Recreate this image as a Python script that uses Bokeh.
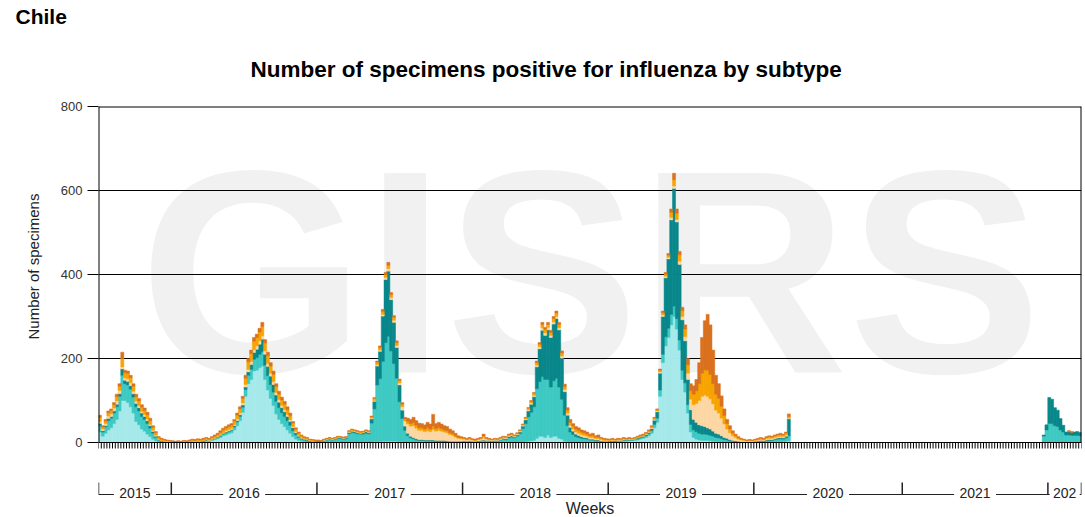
import pandas as pd
from bokeh.plotting import figure
from bokeh.models import Range1d, FixedTicker, ColumnDataSource, Title
from bokeh.embed import file_html
from bokeh.resources import INLINE
from bokeh.core.properties import value

# ---------------- data ----------------
# week index 0 = 2015 week 28; 351 weekly bars up to 2022 week 12
n_weeks = 351
year_labels = ["2015", "2016", "2017", "2018", "2019", "2020", "2021", "202"]
year_starts = [0, 26, 78, 130, 182, 234, 287, 339]
y_ticks = [0, 200, 400, 600, 800]

series_names = ["A(H1N1)pdm09", "A(H3)", "A (not subtyped)",
                "B (Victoria)", "B (Yamagata)", "B (lineage not determined)"]
series_colors = ["#a6e9ea", "#3ec9c3", "#09878a", "#fcd7a4", "#f7a400", "#d9711f"]

a_h1 = [25,15,22,30,35,45,55,75,100,100, 95,85,70,50,42,32,27,20,14,8,
        4,2,1,1,0,0,0,0,0,0, 0,0,1,1,1,1,1,2,3,3,
        5,7,9,12,16,18,21,23,30,40, 52,72,110,140,150,170,172,178,182,150,
        125,105,88,68,55,45,38,30,22,14, 8,5,3,2,1,1,0,0,0,0,
        0,0,0,0,0,0,0,0,0,1, 1,1,1,1,1,1,1,1,2,2,
        2,3,3,3,3,3,3,2,2,1, 1,1,1,0,0,0,0,0,0,0,
        0,0,0,0,0,0,0,0,0,0, 0,0,0,0,0,0,0,0,0,0,
        0,0,0,0,0,0,0,0,0,1, 1,1,2,3,4,5,10,15,15,12,
        18,12,15,15,10,8,3,2,1,1, 0,0,0,0,0,0,0,0,0,0,
        0,0,1,1,1,2,2,3,3,4, 4,5,6,8,10,12,16,22,35,48,
        110,190,230,250,280,300,270,220,150,120, 70,25,12,8,6,5,5,5,4,3,
        2,2,1,1,1,0,0,0,0,0, 0,0,0,0,0,1,1,1,1,1,
        1,2,2,2,2,3,4] + [0] * 90 + \
       [0,0,0,0,0,0,0,0,0,0,0,0,0,0]

a_h3 = [15,10,15,22,23,25,30,35,60,40, 42,42,38,35,33,30,28,25,20,14,
        8,4,2,1,1,1,1,1,1,1, 1,1,1,1,1,1,1,1,2,1,
        2,2,3,3,4,5,5,6,7,9, 10,12,16,20,24,28,30,32,34,34,
        34,33,32,30,28,26,24,22,19,14, 10,7,5,4,3,2,2,2,3,2,
        4,6,8,6,8,10,9,8,9,20, 23,22,20,19,19,21,20,45,78,135,
        150,190,235,250,215,185,150,95,55,28, 15,10,8,6,5,5,4,4,4,4,
        3,3,3,3,3,2,2,2,2,2, 3,2,3,2,2,3,4,5,4,4,
        3,4,4,6,8,7,11,13,11,14, 20,32,43,58,68,80,118,130,142,138,
        132,120,132,138,122,95,62,38,24,18, 14,12,10,9,8,6,6,4,4,3,
        2,2,2,2,2,2,2,2,2,2, 2,2,3,3,3,4,5,6,8,10,
        15,20,22,22,25,25,25,24,22,22, 20,18,18,18,16,15,15,14,13,12,
        10,9,8,6,5,4,3,2,2,1, 1,1,1,1,2,2,3,2,3,4,
        4,5,6,7,6,8,12] + [0] * 90 + \
       [15,30,45,45,40,38,30,25,18,18,17,17,17,16]

a_ns = [5,3,3,5,4,5,6,6,15,8, 8,8,8,8,8,8,7,7,6,4,
        3,1,1,1,1,0,1,0,0,0, 1,0,1,1,0,1,1,1,1,1,
        1,1,1,2,2,2,2,2,3,3, 4,5,6,8,12,16,20,24,30,26,
        22,20,18,15,13,12,11,10,9,7, 5,3,2,2,2,1,1,1,1,1,
        1,1,1,1,1,2,2,2,2,3, 3,3,3,2,3,4,3,10,18,45,
        65,108,150,155,122,98,73,40,20,10, 6,4,3,3,2,2,2,2,2,2,
        2,2,2,2,1,1,1,1,1,1, 1,1,1,1,1,1,1,1,1,1,
        1,1,1,1,2,2,3,3,2,3, 4,6,9,14,19,24,52,78,110,105,
        118,118,135,142,136,98,56,25,11,8, 6,5,4,3,3,2,2,2,2,1,
        1,1,1,1,1,1,1,1,1,1, 1,1,2,2,2,3,3,5,10,15,
        40,90,140,165,225,280,230,180,120,100, 60,35,25,22,20,20,18,16,15,12,
        10,9,7,5,4,3,2,2,1,1, 1,1,1,1,1,1,1,1,2,2,
        2,2,3,3,3,4,40] + [0] * 90 + \
       [3,12,62,58,43,39,27,16,7,8,7,8,9,8]

b_vic = [5,4,5,6,6,7,8,8,5,6, 7,7,6,5,5,4,4,4,3,3,
         2,1,1,1,1,1,0,0,1,0, 1,1,1,1,1,1,1,1,1,1,
         1,1,2,2,2,3,3,3,3,4, 4,5,6,6,7,7,8,8,8,8,
         7,7,7,6,6,5,5,5,4,3, 3,2,2,1,1,1,1,0,0,0,
         1,1,1,1,1,1,1,1,1,1, 1,1,1,1,1,1,1,2,2,3,
         3,4,5,6,5,5,5,5,8,12, 22,24,28,25,22,22,20,22,20,25,
         22,24,22,20,19,16,14,10,7,6, 4,3,4,3,2,3,3,6,3,2,
         2,2,2,2,2,2,2,2,2,2, 2,2,2,3,3,3,4,5,6,6,
         6,5,5,5,5,5,5,5,5,5, 5,5,5,5,4,4,4,3,3,3,
         2,2,1,2,1,1,1,2,1,1, 1,1,1,1,1,1,1,2,2,2,
         3,4,4,4,6,6,6,8,8,10, 15,25,35,45,58,70,75,75,72,65,
         55,50,42,32,22,16,11,8,5,4, 3,2,2,2,2,2,2,2,3,3,
         3,3,3,3,3,3,2] + [0] * 90 + \
        [0,0,0,0,0,0,0,0,0,0,0,0,0,0]

b_yam = [10,5,6,8,8,8,10,10,20,12, 12,12,12,11,11,10,10,10,9,7,
         6,4,3,2,2,2,1,1,1,1, 1,1,1,2,2,3,2,3,3,2,
         3,4,4,5,6,6,7,7,8,9, 10,11,15,18,19,20,20,21,22,19,
         19,17,17,14,13,13,13,11,10,8, 6,5,4,3,3,2,2,2,1,1,
         1,1,1,1,1,1,1,1,1,2, 3,2,2,2,2,2,2,3,5,6,
         6,7,7,8,7,7,7,6,6,5, 6,6,8,7,6,6,6,8,6,8,
         6,7,6,5,5,4,4,3,2,2, 2,2,2,1,1,1,2,3,2,1,
         1,2,1,2,2,2,2,2,2,2, 2,2,3,4,4,5,6,6,8,8,
         7,7,8,8,8,7,7,7,7,7, 7,7,6,6,5,4,5,4,4,3,
         3,2,2,2,2,2,2,2,2,2, 1,2,2,2,2,2,3,3,3,3,
         4,5,5,5,12,15,15,15,14,18, 20,20,25,30,40,55,60,62,58,48,
         38,35,28,20,13,9,6,4,3,2, 2,1,2,1,2,2,3,2,3,4,
         3,4,4,4,4,4,4] + [0] * 90 + \
        [0,0,0,0,0,0,0,0,0,1,0,0,0,0]

b_nd = [5,3,4,4,4,5,6,6,15,6, 6,6,6,6,6,6,6,6,6,4,
        3,2,2,2,1,1,1,1,1,1, 1,1,1,2,2,2,2,2,2,2,
        2,3,3,4,4,4,4,4,4,5, 5,5,7,8,8,9,8,9,10,8,
        8,8,8,7,7,7,7,7,6,4, 3,3,2,2,2,1,1,1,1,1,
        1,1,1,1,1,1,1,1,1,1, 1,1,1,1,1,1,1,2,2,3,
        4,5,5,7,5,4,4,3,4,4, 8,10,12,11,11,10,10,12,12,28,
        12,12,11,10,10,9,7,6,4,3, 2,2,2,2,2,2,2,5,2,2,
        1,1,1,1,1,1,2,2,1,1, 1,1,1,1,2,2,4,4,5,5,
        5,5,5,5,5,5,6,6,7,6, 6,6,5,5,5,4,5,3,5,2,
        2,2,1,2,1,2,1,2,1,2, 1,1,1,2,2,2,2,2,2,2,
        3,4,4,4,8,15,10,8,8,10, 15,17,20,27,50,85,117,133,118,80,
        45,35,25,16,10,8,6,4,3,2, 1,1,1,1,1,2,2,2,2,2,
        2,2,2,3,2,3,6] + [0] * 90 + \
       [0,0,0,0,0,0,0,0,0,1,2,0,0,0]

series_values = [a_h1, a_h3, a_ns, b_vic, b_yam, b_nd]

# ---------------- layout constants (pixels) ----------------
FONT = "Liberation Sans"
W, H = 1085, 517
LEFT, RIGHT, TOP = 98, 4, 106        # frame: x 98..1081, y 106..517
PX = 336 / 800                       # pixels per specimen (0 at y=442, 800 at y=106)
XPX = (W - LEFT - RIGHT) / n_weeks   # pixels per week
def below(px):                       # data y for a pixel distance below the zero line
    return -px / PX

p = figure(width=W, height=H, x_range=Range1d(0, n_weeks),
           y_range=Range1d(below(H - 442), 800), x_axis_type=None,
           toolbar_location=None, output_backend="svg", title=None,
           min_border_left=LEFT, min_border_right=RIGHT, min_border_top=TOP,
           min_border_bottom=0)
p.outline_line_color = None
p.grid.visible = False

# titles (first added sits nearest the frame)
p.add_layout(Title(text="Number of specimens positive for influenza by subtype",
                   align="left", offset=152, standoff=49, text_font=FONT,
                   text_font_size="22.5px", text_font_style="bold", text_color="black"), "above")
p.add_layout(Title(text="Chile", align="left", offset=-83, standoff=5, text_font=FONT,
                   text_font_size="21px", text_font_style="bold", text_color="black"), "above")

# watermark
p.text(x=[(590 - LEFT) / XPX], y=[(442 - 271) / PX], text=["GISRS"], text_font=value(FONT),
       text_font_style="bold", text_font_size="290px", text_align="center",
       text_baseline="middle", text_color="#f1f1f1")

# grid lines
grid_vals = [v for v in y_ticks if 0 < v < 800]
p.segment(x0=[0] * len(grid_vals), y0=grid_vals, x1=[n_weeks] * len(grid_vals), y1=grid_vals,
          line_color="black", line_width=1)

# stacked bars
df = pd.DataFrame({name: vals for name, vals in zip(series_names, series_values)})
df["x"] = [i + 0.5 for i in range(n_weeks)]
bottom = pd.Series([0.0] * n_weeks)
for name, col in zip(series_names, series_colors):
    top = bottom + df[name]
    mask = (df[name] > 0).values
    src = ColumnDataSource(dict(x=df["x"].values[mask].tolist(),
                                bottom=bottom.values[mask].tolist(),
                                top=top.values[mask].tolist()))
    p.vbar(x="x", width=1.1, bottom="bottom", top="top", source=src,
           fill_color=col, line_color=col, line_width=0.5)
    bottom = top

# frame lines: top (800), left, right, zero axis line
p.segment(x0=[0, 0, n_weeks], y0=[800, 0, 0], x1=[n_weeks, 0, n_weeks], y1=[800, 800, 800],
          line_color="black", line_width=2)
p.segment(x0=[0], y0=[0], x1=[n_weeks], y1=[0], line_color="black", line_width=1)

# weekly tick marks under the zero line
weeks = list(range(n_weeks + 1))
p.segment(x0=weeks, y0=[0] * len(weeks), x1=weeks, y1=[below(6)] * len(weeks),
          line_color="black", line_width=1)

# year bracket axis
bounds = year_starts + [n_weeks]
y_line = below(494 - 442)
p.segment(x0=[0], y0=[y_line], x1=[n_weeks], y1=[y_line], line_color="#222222", line_width=1)
p.segment(x0=bounds, y0=[below(482 - 442)] * len(bounds), x1=bounds, y1=[y_line] * len(bounds),
          line_color="#222222", line_width=1.5)
centers = [(bounds[i] + bounds[i + 1]) / 2 for i in range(len(year_labels))]
p.rect(x=centers, y=[y_line] * len(centers), width=[42] * 7 + [30], height=12,
       width_units="screen", height_units="screen", fill_color="white", line_color=None)
p.text(x=centers, y=[below(492.5 - 442)] * len(centers), text=year_labels, text_font=value(FONT),
       text_font_size="14px", text_align="center", text_baseline="middle", text_color="#222222")
p.text(x=[n_weeks / 2], y=[below(516 - 442)], text=["Weeks"], text_font=value(FONT),
       text_font_size="16px", text_align="center", text_baseline="bottom", text_color="#222222")

# y axis
p.yaxis.ticker = FixedTicker(ticks=y_ticks)
p.yaxis.major_tick_out = 11
p.yaxis.major_tick_in = 0
p.yaxis.minor_tick_line_color = None
p.yaxis.major_tick_line_color = "black"
p.yaxis.axis_line_color = None
p.yaxis.major_label_text_font = FONT
p.yaxis.major_label_text_font_size = "13px"
p.yaxis.major_label_text_color = "#333333"
p.yaxis.major_label_standoff = 5
p.add_layout(Title(text="Number of specimens", align="left", offset=178, standoff=31,
                   text_font=FONT, text_font_size="15px", text_font_style="normal",
                   text_color="#222222"), "left")

open("out.html", "w").write(file_html(p, INLINE))
